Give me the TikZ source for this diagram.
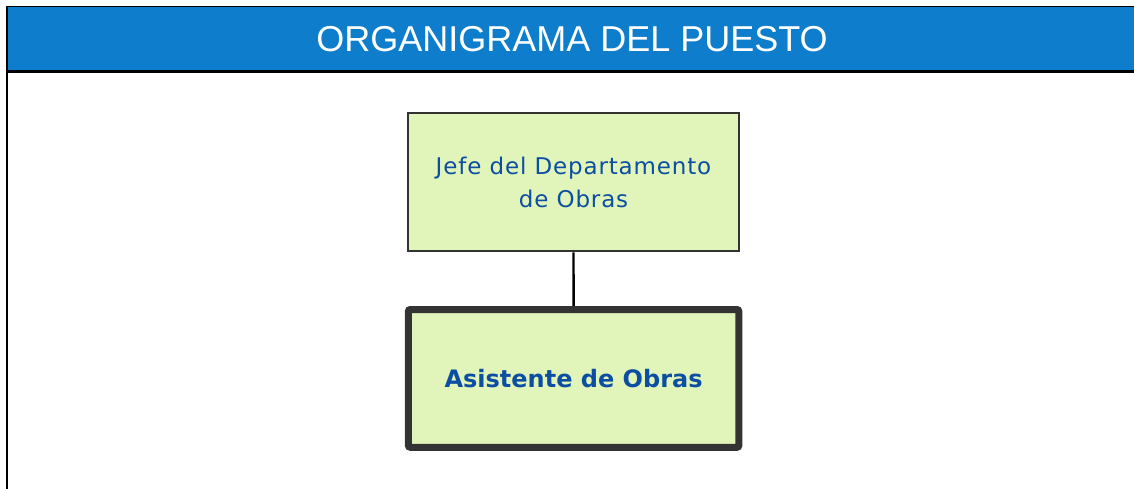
\documentclass[tikz,border=0pt]{standalone}
\usepackage{fontspec}
\setmainfont{DejaVu Sans}
\newfontfamily\titlefont{Liberation Sans}
\newfontfamily\spacedfont[LetterSpace=3.7]{DejaVu Sans}
\definecolor{hdrblue}{HTML}{0E7DCB}
\definecolor{boxfill}{HTML}{E1F5BA}
\definecolor{boxtext}{HTML}{0B4EA2}
\definecolor{boxline}{HTML}{333333}
\tikzset{
  chartbox/.style={draw=boxline, fill=boxfill, text=boxtext, align=center, inner sep=0pt},
  link/.style={draw=black, line width=2.4pt}
}
\begin{document}
\begin{tikzpicture}[x=1pt,y=-1pt]
\useasboundingbox (0,0) rectangle (1134,489);
% header
\fill[hdrblue] (7,7) rectangle (1134,71.5);
\draw[line width=1.6pt] (6,6.5) -- (1134,6.5);
\draw[line width=2.4pt] (6,71.5) -- (1134,71.5);
\draw[line width=1.8pt] (6.8,6) -- (6.8,489);
\node[text=white, font=\titlefont\fontsize{36}{40}\selectfont] (title) at (572,39) {ORGANIGRAMA DEL PUESTO};
% boxes
\node[chartbox, line width=2pt, minimum width=331pt, minimum height=138.5pt,
      font=\spacedfont\fontsize{23}{33}\selectfont] (jefe) at (573.5,182.2)
      {Jefe del Departamento\\de Obras};
\node[chartbox, line width=7pt, rounded corners=2pt, minimum width=330.5pt, minimum height=137.8pt,
      font=\bfseries\fontsize{24}{28}\selectfont] (asist) at (573.6,378.4)
      {Asistente de Obras};
\draw[link] (jefe.south) -- (asist.north);
\end{tikzpicture}
\end{document}
